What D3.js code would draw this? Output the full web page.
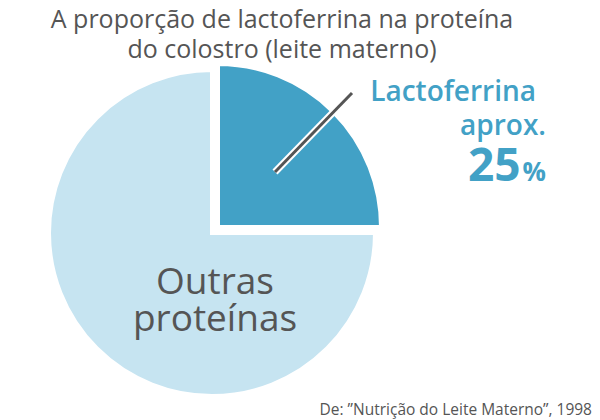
<!DOCTYPE html>
<html><head><meta charset="utf-8">
<script src="https://cdn.jsdelivr.net/npm/d3@7"></script>
<style>body{margin:0;background:#fff}text{font-family:"Open Sans",sans-serif}</style>
</head><body><div id="chart"></div>
<script>
const labels = ["Lactoferrina", "Outras proteínas"];
const values = [25, 75];
const colors = ["#42a1c6", "#c6e4f1"];
const titleLines = ["A proporção de lactoferrina na proteína", "do colostro (leite materno)"];

const width = 600, height = 420;
const cx = 212, cy = 233, radius = 163;

const svg = d3.select("#chart").append("svg")
    .attr("width", width).attr("height", height);

// title
svg.selectAll(".title").data(titleLines).enter().append("text")
    .attr("x", 282).attr("y", (d, i) => 28 + i * 30)
    .attr("text-anchor", "middle")
    .style("font-size", "25px").style("font-weight", "500").style("fill", "#555")
    .text(d => d);

const pie = d3.pie().sort(null)(values);
const arc = d3.arc().innerRadius(0).outerRadius(radius);

const g = svg.append("g").attr("transform", "translate(" + cx + "," + cy + ")");

g.selectAll("path").data(pie).enter().append("path")
    .attr("d", arc)
    .attr("transform", (d, i) => i == 0 ? "translate(6,-6)" : null)
    .style("fill", (d, i) => colors[i])
    .style("stroke", "#fff")
    .style("stroke-width", 4);

// leader line
const lx = d3.scaleLinear().domain([0, 1]).range([275, 352]);
const ly = d3.scaleLinear().domain([0, 1]).range([172, 93]);
[["#fff", 7], ["#555", 3]].forEach(s => {
    svg.append("line")
        .attr("x1", lx(0)).attr("y1", ly(0)).attr("x2", lx(1)).attr("y2", ly(1))
        .style("stroke", s[0]).style("stroke-width", s[1]);
});

// labels
svg.append("text").attr("x", 536).attr("y", 101).attr("text-anchor", "end")
    .style("font-size", "28px").style("font-weight", "600").style("fill", colors[0])
    .text(labels[0]);
svg.append("text").attr("x", 546).attr("y", 135).attr("text-anchor", "end")
    .style("font-size", "28px").style("font-weight", "600").style("fill", colors[0])
    .text("aprox.");
const pct = svg.append("text").attr("x", 546).attr("y", 181).attr("text-anchor", "end")
    .style("font-weight", "700").style("fill", colors[0]);
pct.append("tspan").style("font-size", "46px").text(values[0]);
pct.append("tspan").style("font-size", "26px").attr("dx", 2).text("%");

const other = labels[1].split(" ");
svg.selectAll(".other").data(other).enter().append("text")
    .attr("x", 215).attr("y", (d, i) => 294 + i * 37)
    .attr("text-anchor", "middle")
    .style("font-size", "37px").style("font-weight", "500").style("fill", "#555")
    .text(d => d);

svg.append("text").attr("x", 592).attr("y", 415).attr("text-anchor", "end")
    .style("font-size", "15.5px").style("fill", "#555")
    .text("De: \u201dNutrição do Leite Materno\u201d, 1998");
</script></body></html>
